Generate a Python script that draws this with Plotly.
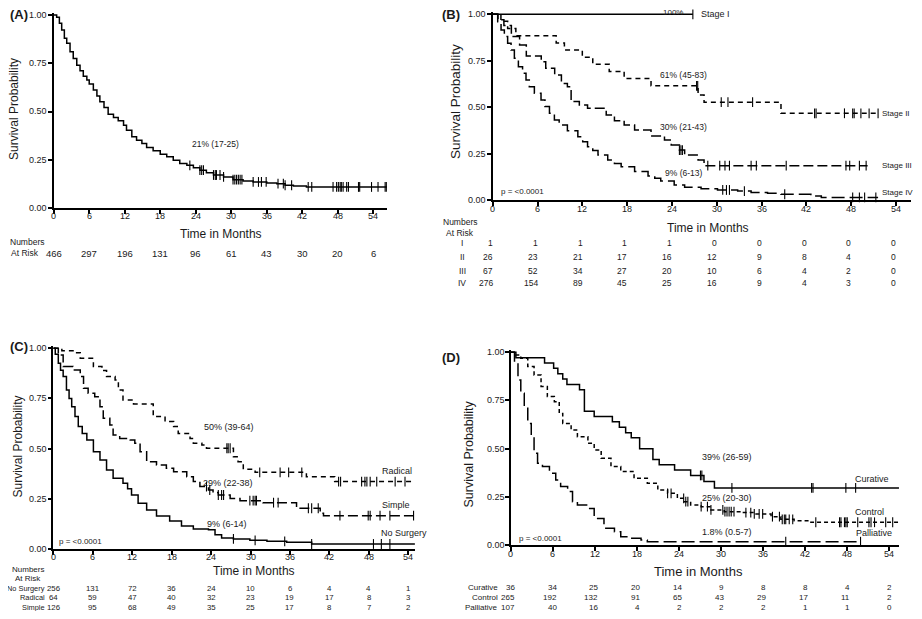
import plotly.graph_objects as go

W, H = 922, 619
OFF = 8  # the page body keeps its default 8px margin
FW, FH = W - 2 * OFF, H - 2 * OFF
FONT = "Arial, Liberation Sans, sans-serif"
INK = "#1a1a1a"

months = [0, 6, 12, 18, 24, 30, 36, 42, 48, 54]
prob_ticks = [0, 0.25, 0.5, 0.75, 1.0]

# ---- (A) all patients ----
a_time = [0, 0.5, 0.96, 1.35, 1.8, 2.2, 2.76, 3.3, 3.9, 4.45, 5.0, 5.6, 6.0, 6.7, 7.3, 7.8,
          8.5, 9.2, 10.1, 10.9, 11.8, 12.3, 13.2, 14.0, 14.9, 15.7, 16.8, 18.0, 19.1, 20.2,
          21.3, 22.5, 23.6, 24.7, 25.8, 27.0, 28.7, 30.3, 32.0, 33.7, 36.0, 37.7, 39.1, 40.5, 42.7]
a_surv = [1.0, 0.988, 0.957, 0.922, 0.879, 0.853, 0.81, 0.775, 0.74, 0.711, 0.683, 0.663, 0.642,
          0.611, 0.58, 0.55, 0.521, 0.486, 0.469, 0.452, 0.429, 0.403, 0.369, 0.351, 0.334, 0.313,
          0.296, 0.279, 0.265, 0.247, 0.23, 0.221, 0.209, 0.196, 0.182, 0.171, 0.161, 0.147, 0.14,
          0.135, 0.13, 0.126, 0.118, 0.114, 0.109]
a_end = 56.3
a_cens = [23.0, 24.7, 25.0, 25.3, 27.0, 27.3, 27.5, 28.1, 28.7, 30.3, 30.6, 30.9, 31.2, 31.5, 31.8,
          33.7, 34.6, 35.1, 35.9, 37.9, 38.8, 39.1, 40.2, 43.0, 43.6, 47.2, 47.8, 48.1, 48.4, 48.6,
          48.9, 49.5, 49.8, 51.5, 51.7, 53.7, 54.8, 56.0, 56.2]
a_risk = [466, 297, 196, 131, 96, 61, 43, 30, 20, 6]

# ---- (B) by stage ----
b1_time = [0]
b1_surv = [1.0]
b1_end = 26.8
b1_cens = [26.8]

b2_time = [0, 1.1, 2.0, 3.1, 8.5, 9.6, 12.0, 13.4, 15.6, 17.6, 21.2, 27.5, 28.3, 38.6]
b2_surv = [1.0, 0.962, 0.923, 0.885, 0.846, 0.808, 0.769, 0.731, 0.692, 0.654, 0.615, 0.565, 0.527, 0.467]
b2_end = 51.6
b2_cens = [27.3, 27.45, 30.6, 31.5, 34.8, 43.1, 43.3, 47.1, 48.2, 48.4, 49.3, 50.4, 51.6]

b3_time = [0, 0.7, 1.5, 2.5, 3.6, 4.5, 6.5, 7.1, 8.3, 9.2, 10.0, 10.5, 11.6, 12.7, 15.2, 16.3,
           17.6, 19.0, 21.2, 23.0, 23.9, 25.0, 25.7, 27.5, 28.3]
b3_surv = [1.0, 0.97, 0.94, 0.88, 0.835, 0.775, 0.745, 0.71, 0.673, 0.628, 0.61, 0.53, 0.512,
           0.494, 0.458, 0.427, 0.404, 0.377, 0.345, 0.323, 0.296, 0.269, 0.242, 0.215, 0.185]
b3_end = 50.2
b3_cens = [25.0, 25.2, 25.4, 28.8, 30.4, 31.1, 31.7, 34.6, 35.3, 39.3, 47.3, 47.8, 49.1, 50.0]

b4_time = [0, 0.67, 1.12, 1.56, 2.0, 2.46, 2.9, 3.44, 4.0, 4.46, 4.9, 5.58, 6.47, 7.0, 7.6, 8.26,
           8.9, 10.0, 11.4, 12.05, 12.7, 13.4, 14.1, 15.4, 16.3, 17.2, 19.0, 20.8, 21.7, 22.5, 24.3,
           25.7, 27.9, 30.1, 32.8, 34.6, 36.8, 38.6, 42.6, 44.0]
b4_surv = [1.0, 0.96, 0.916, 0.88, 0.844, 0.808, 0.763, 0.718, 0.682, 0.646, 0.61, 0.575, 0.539,
           0.503, 0.467, 0.431, 0.404, 0.373, 0.341, 0.314, 0.287, 0.266, 0.242, 0.215, 0.197,
           0.179, 0.153, 0.129, 0.117, 0.102, 0.081, 0.068, 0.061, 0.054, 0.048, 0.041, 0.036,
           0.031, 0.022, 0.014]
b4_end = 51.6
b4_cens = [30.8, 31.3, 31.7, 33.7, 39.1, 48.2, 49.1, 49.8, 51.3]

b_rows = ["I", "II", "III", "IV"]
b_risk = [[1, 1, 1, 1, 1, 0, 0, 0, 0, 0],
          [26, 23, 21, 17, 16, 12, 9, 8, 4, 0],
          [67, 52, 34, 27, 20, 10, 6, 4, 2, 0],
          [276, 154, 89, 45, 25, 16, 9, 4, 3, 0]]

# ---- (C) by surgery ----
c_none_time = [0, 0.3, 0.76, 1.1, 1.5, 2.0, 2.4, 2.8, 3.3, 3.8, 4.4, 5.1, 6.1, 7.1, 8.1, 9.1,
               10.6, 11.3, 11.9, 12.9, 14.2, 15.7, 17.7, 19.5, 21.3, 23.6, 24.6, 25.6, 27.4, 29.9,
               32.5, 35.5, 39.3]
c_none_surv = [1.0, 0.97, 0.925, 0.89, 0.859, 0.792, 0.75, 0.709, 0.66, 0.61, 0.575, 0.543, 0.485,
               0.444, 0.394, 0.352, 0.327, 0.3, 0.269, 0.228, 0.194, 0.164, 0.14, 0.115, 0.1,
               0.096, 0.071, 0.055, 0.05, 0.043, 0.038, 0.033, 0.025]
c_none_end = 55.3
c_none_cens = [27.4, 30.7, 35.2, 39.3, 48.7, 49.9, 51.2]

c_rad_time = [0, 1.3, 3.0, 4.1, 6.1, 7.4, 8.1, 9.4, 9.9, 10.6, 12.2, 15.2, 17.0, 18.3, 19.0,
              20.8, 21.3, 22.6, 23.3, 27.4, 28.1, 28.9, 30.7, 38.5, 42.8]
c_rad_surv = [1.0, 0.988, 0.978, 0.95, 0.909, 0.889, 0.859, 0.842, 0.792, 0.743, 0.723, 0.66,
              0.635, 0.61, 0.576, 0.551, 0.527, 0.518, 0.502, 0.46, 0.435, 0.397, 0.382, 0.36, 0.336]
c_rad_end = 55.0
c_rad_cens = [26.4, 26.6, 26.9, 31.4, 34.5, 35.8, 37.8, 43.4, 43.7, 46.9, 47.4, 47.7, 48.2,
              49.2, 52.0, 53.5]

c_simp_time = [0, 0.76, 1.5, 3.0, 4.1, 4.6, 5.3, 6.3, 7.1, 7.6, 8.6, 9.1, 10.1, 11.7, 12.4, 13.2,
               14.2, 15.7, 17.2, 18.3, 20.3, 21.3, 22.3, 23.6, 24.3, 25.1, 26.9, 28.4, 31.9, 37.0,
               40.6, 41.1]
c_simp_surv = [1.0, 0.967, 0.909, 0.892, 0.859, 0.801, 0.776, 0.759, 0.709, 0.651, 0.618, 0.568,
               0.551, 0.543, 0.527, 0.485, 0.435, 0.419, 0.402, 0.385, 0.36, 0.336, 0.311, 0.294,
               0.281, 0.269, 0.252, 0.241, 0.231, 0.203, 0.178, 0.166]
c_simp_end = 54.8
c_simp_cens = [23.3, 23.8, 25.1, 25.6, 25.9, 29.9, 30.4, 30.7, 30.9, 33.5, 34.2, 38.8, 39.3,
               40.3, 43.6, 47.9, 48.2, 49.7, 51.2, 54.8]

c_rows = ["No Surgery", "Radical", "Simple"]
c_risk = [[256, 131, 72, 36, 24, 10, 6, 4, 4, 1],
          [64, 59, 47, 40, 32, 23, 19, 17, 8, 3],
          [126, 95, 68, 49, 35, 25, 17, 8, 7, 2]]

# ---- (D) by intent of treatment ----
d_cur_time = [0, 0.7, 4.8, 6.1, 6.7, 7.4, 8.0, 9.8, 10.5, 11.9, 14.5, 15.5, 16.4, 17.2, 18.4,
              20.3, 21.2, 23.4, 25.7, 27.6, 29.1]
d_cur_surv = [1.0, 0.972, 0.944, 0.917, 0.889, 0.861, 0.833, 0.806, 0.694, 0.667, 0.639, 0.611,
              0.583, 0.556, 0.5, 0.444, 0.417, 0.389, 0.361, 0.33, 0.296]
d_cur_end = 55.5
d_cur_cens = [27.1, 27.3, 31.6, 43.0, 43.2, 47.9, 49.3]

d_ctl_time = [0, 0.7, 1.4, 2.4, 3.3, 4.3, 5.2, 6.2, 6.9, 7.4, 8.6, 9.5, 11.0, 11.9, 12.9, 14.3,
              15.7, 17.6, 19.5, 21.0, 22.4, 23.8, 24.8, 25.7, 27.2, 28.6, 30.5, 32.9, 34.8, 37.2,
              38.6, 40.5, 42.9]
d_ctl_surv = [1.0, 0.986, 0.969, 0.926, 0.882, 0.822, 0.77, 0.744, 0.683, 0.631, 0.597, 0.562,
              0.528, 0.493, 0.45, 0.407, 0.381, 0.346, 0.32, 0.285, 0.268, 0.242, 0.225, 0.208,
              0.199, 0.182, 0.173, 0.168, 0.161, 0.147, 0.133, 0.126, 0.118]
d_ctl_end = 55.5
d_ctl_cens = [22.4, 22.9, 24.7, 25.0, 25.3, 27.2, 28.1, 28.6, 30.3, 30.6, 30.9, 31.2, 31.5, 31.9,
              33.6, 34.3, 34.8, 35.5, 36.0, 37.4, 38.4, 38.8, 39.1, 39.3, 39.8, 40.3, 43.6, 47.0,
              47.2, 47.7, 47.9, 48.1, 49.6, 51.2, 51.5, 52.0, 53.6, 54.6]

d_pal_time = [0, 0.5, 1.0, 1.4, 1.9, 2.4, 2.9, 3.3, 3.8, 4.5, 5.5, 6.4, 7.1, 8.1, 8.8, 9.5, 11.0,
              11.9, 13.3, 14.8, 15.7, 16.7, 18.6, 19.5]
d_pal_surv = [1.0, 0.943, 0.856, 0.787, 0.718, 0.631, 0.562, 0.476, 0.424, 0.407, 0.372, 0.337,
              0.303, 0.277, 0.225, 0.208, 0.19, 0.138, 0.087, 0.069, 0.043, 0.035, 0.026, 0.017]
d_pal_end = 50.0
d_pal_cens = [39.3, 50.0]

d_rows = ["Curative", "Control", "Palliative"]
d_risk = [[36, 34, 25, 20, 14, 9, 8, 8, 4, 2],
          [265, 192, 132, 91, 65, 43, 29, 17, 11, 2],
          [107, 40, 16, 4, 2, 2, 2, 1, 1, 0]]

# ---- panel geometry, in pixels of the 922x619 page ----
panels = {
    "A": dict(ax="", x0=53.7, x54=373.3, xmax=56.3, ytop=15.0, ybot=208.0, xlab=216.3),
    "B": dict(ax="2", x0=492.7, x54=896.0, xmax=56.0, ytop=14.3, ybot=200.0, xlab=208.7),
    "C": dict(ax="3", x0=53.3, x54=408.3, xmax=55.0, ytop=348.3, ybot=549.0, xlab=556.7),
    "D": dict(ax="4", x0=511.0, x54=888.5, xmax=55.5, ytop=352.3, ybot=545.0, xlab=554.3),
}
YMAX = 1.01


def fx(x):
    return (x - OFF) / FW


def fy(y):
    return 1 - (y - OFF) / FH


def surv_at(times, surv, t):
    s = surv[0]
    for ti, si in zip(times, surv):
        if ti <= t:
            s = si
    return s


fig = go.Figure()


def km(panel, times, surv, end, cens, dash, width=1.5):
    ax = panels[panel]["ax"]
    fig.add_trace(go.Scatter(
        x=times + [end], y=surv + [surv[-1]], mode="lines", line_shape="hv",
        line=dict(color="black", width=width, dash=dash),
        xaxis="x" + ax, yaxis="y" + ax, showlegend=False, hoverinfo="skip"))
    fig.add_trace(go.Scatter(
        x=cens, y=[surv_at(times, surv, t) for t in cens], mode="markers",
        marker=dict(symbol="line-ns-open", size=7, color="black",
                    line=dict(width=1.1, color="black")),
        xaxis="x" + ax, yaxis="y" + ax, showlegend=False, hoverinfo="skip",
        cliponaxis=False))


km("A", a_time, a_surv, a_end, a_cens, "solid")

km("B", b1_time, b1_surv, b1_end, b1_cens, "solid")
km("B", b2_time, b2_surv, b2_end, b2_cens, "5px,4px")
km("B", b3_time, b3_surv, b3_end, b3_cens, "10px,4px")
km("B", b4_time, b4_surv, b4_end, b4_cens, "13px,5px")

km("C", c_none_time, c_none_surv, c_none_end, c_none_cens, "solid")
km("C", c_rad_time, c_rad_surv, c_rad_end, c_rad_cens, "5px,4px")
km("C", c_simp_time, c_simp_surv, c_simp_end, c_simp_cens, "10px,4px")

km("D", d_cur_time, d_cur_surv, d_cur_end, d_cur_cens, "solid")
km("D", d_ctl_time, d_ctl_surv, d_ctl_end, d_ctl_cens, "4px,3px")
km("D", d_pal_time, d_pal_surv, d_pal_end, d_pal_cens, "13px,5px")

layout = dict(
    width=FW, height=FH, margin=dict(l=0, r=0, t=0, b=0),
    plot_bgcolor="white", paper_bgcolor="white",
    font=dict(family=FONT, color=INK, size=9),
    showlegend=False,
)

for name, p in panels.items():
    ppm = (p["x54"] - p["x0"]) / 54
    xdom = [fx(p["x0"]), fx(p["x0"] + p["xmax"] * ppm)]
    ytop_px = p["ybot"] - YMAX * (p["ybot"] - p["ytop"])
    ydom = [fy(p["ybot"]), fy(ytop_px)]
    axis_common = dict(showline=True, linecolor="black", linewidth=1.5, ticks="outside",
                       ticklen=4, tickwidth=1.5, tickcolor="black", showgrid=False,
                       zeroline=False, showticklabels=False)
    layout["xaxis" + p["ax"]] = dict(axis_common, domain=xdom, range=[0, p["xmax"]],
                                     tickvals=months, anchor="y" + p["ax"])
    layout["yaxis" + p["ax"]] = dict(axis_common, domain=ydom, range=[0, YMAX],
                                     tickvals=prob_ticks, anchor="x" + p["ax"])

fig.update_layout(**layout)

ann = []


def page_text(x, y, text, size=9, xanchor="center", bold=False, angle=0):
    ann.append(dict(x=fx(x), y=fy(y), xref="paper", yref="paper", text=text,
                    showarrow=False, xanchor=xanchor, yanchor="middle", textangle=angle,
                    font=dict(size=size, family=FONT, color=INK,
                              weight="bold" if bold else "normal")))


def plot_text(panel, t, s, text, size=8.5, xanchor="center"):
    ax = panels[panel]["ax"]
    ann.append(dict(x=t, y=s, xref="x" + ax, yref="y" + ax, text=text, showarrow=False,
                    xanchor=xanchor, yanchor="middle",
                    font=dict(size=size, family=FONT, color=INK)))


def risk_row(panel, y, values, shift=0.0, xanchor="center", size=8.5):
    ax = panels[panel]["ax"]
    for t, v in zip(months, values):
        ann.append(dict(x=t + shift, y=fy(y), xref="x" + ax, yref="paper", text=str(v),
                        showarrow=False, xanchor=xanchor, yanchor="middle",
                        font=dict(size=size, family=FONT, color=INK)))


# tick labels, set tight against the ticks as in the original
for name, p in panels.items():
    ax = p["ax"]
    risk_row(name, p["xlab"], months, size=9)
    for v in prob_ticks:
        ann.append(dict(x=fx(p["x0"] - 4.5), y=v, xref="paper", yref="y" + ax,
                        text=f"{v:.2f}", showarrow=False, xanchor="right", yanchor="middle",
                        font=dict(size=9, family=FONT, color=INK)))

# panel letters
page_text(8, 15, "(A)", size=13, bold=True, xanchor="left")
page_text(451, 15, "(B)", size=13, bold=True)
page_text(8, 346, "(C)", size=13, bold=True, xanchor="left")
page_text(451, 357, "(D)", size=13, bold=True)

# axis titles
page_text(14, 109, "Survival Probability", size=12, angle=-90)
page_text(221, 234, "Time in Months", size=12)
page_text(456, 102, "Survival Probability", size=13.5, angle=-90)
page_text(708, 228, "Time in Months", size=12)
page_text(17.5, 447, "Survival Probability", size=12, angle=-90)
page_text(254, 571, "Time in Months", size=12)
page_text(468.5, 454, "Survival Probability", size=12.5, angle=-90)
page_text(698, 571, "Time in Months", size=13)

# in-plot labels
plot_text("A", 27.4, 0.332, "21% (17-25)")

page_text(673, 13, "100%", size=8)
plot_text("B", 27.6, 1.0, "Stage I", size=9, xanchor="left")
plot_text("B", 25.6, 0.673, "61% (45-83)")
plot_text("B", 51.9, 0.468, "Stage II", size=8, xanchor="left")
plot_text("B", 25.6, 0.393, "30% (21-43)")
plot_text("B", 51.9, 0.188, "Stage III", size=8, xanchor="left")
plot_text("B", 25.6, 0.145, "9% (6-13)")
plot_text("B", 51.9, 0.043, "Stage IV", size=8, xanchor="left")
plot_text("B", 0.8, 0.048, "p = <0.0001", size=8, xanchor="left")

plot_text("C", 26.7, 0.608, "50% (39-64)", size=9)
plot_text("C", 52.3, 0.389, "Radical", size=9)
plot_text("C", 26.6, 0.329, "29% (22-38)", size=9)
plot_text("C", 52.1, 0.219, "Simple", size=9)
plot_text("C", 26.4, 0.125, "9% (6-14)", size=9)
plot_text("C", 53.3, 0.08, "No Surgery", size=9)
plot_text("C", 0.55, 0.035, "p = <0.0001", size=8, xanchor="left")

plot_text("D", 30.9, 0.457, "39% (26-59)", size=9)
plot_text("D", 51.6, 0.342, "Curative", size=9)
plot_text("D", 30.9, 0.244, "25% (20-30)", size=9)
plot_text("D", 51.3, 0.171, "Control", size=9)
plot_text("D", 30.9, 0.067, "1.8% (0.5-7)", size=9)
plot_text("D", 51.9, 0.062, "Palliative", size=9)
plot_text("D", 0.86, 0.036, "p = <0.0001", size=8, xanchor="left")

# numbers at risk
page_text(8, 242, "Numbers", size=8.5, xanchor="left")
page_text(9, 253, "At Risk", size=8.5, xanchor="left")
risk_row("A", 253, a_risk, size=9.5)

page_text(459.5, 222, "Numbers", size=8.5)
page_text(459.5, 233, "At Risk", size=8.5)
for lab, y, vals in zip(b_rows, [243, 257, 271, 283], b_risk):
    page_text(462, y, lab, size=8.5)
    risk_row("B", y, vals, shift=0.3, xanchor="right", size=8.5)

page_text(28, 569, "Numbers", size=8)
page_text(28, 578.5, "At Risk", size=8)
for lab, y, vals in zip(c_rows, [588, 597.5, 607], c_risk):
    page_text(47, y, lab, size=7.4, xanchor="right")
    risk_row("C", y, vals, size=7.8)

for lab, y, vals in zip(d_rows, [587, 597, 607], d_risk):
    page_text(500, y, lab, size=8, xanchor="right")
    risk_row("D", y, vals, shift=0.8, xanchor="right", size=8)

fig.update_layout(annotations=ann)
fig.write_html("out.html")
